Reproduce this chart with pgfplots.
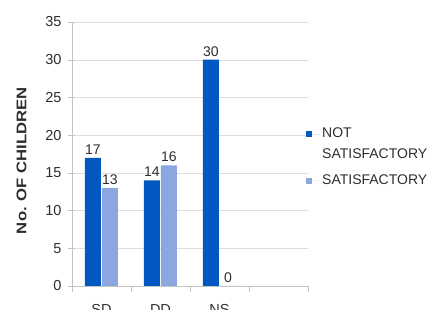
\documentclass[border=0pt]{standalone}
\usepackage{pgfplots}
\pgfplotsset{compat=1.18}
\usepackage{fontspec}
\setmainfont{Liberation Sans}
\definecolor{darkb}{RGB}{2,88,192}
\definecolor{lightb}{RGB}{140,166,224}
\definecolor{gridc}{RGB}{222,222,222}
\definecolor{axc}{RGB}{195,195,195}
\definecolor{txt}{RGB}{45,45,45}
\begin{document}
\begin{tikzpicture}
\clip (-72pt,-24pt) rectangle (362pt,286pt);
\begin{axis}[
  at={(0pt,0pt)}, anchor=south west,
  scale only axis, width=236pt, height=264pt,
  xmin=-0.5, xmax=3.5, ymin=0, ymax=35,
  ybar, bar width=16pt,
  axis x line*=bottom, axis y line*=left,
  axis line style={-,draw=axc},
  ytick={0,5,...,35},
  ymajorgrids, grid style={draw=gridc},
  xtick={0,1,2,3}, xticklabels={SD,DD,NS,{}},
  minor xtick={-0.5,0.5,1.5,2.5,3.5},
  tick align=outside,
  major x tick style={draw=none},
  minor x tick style={draw=axc},
  minor tick length=6pt,
  major tick length=7pt,
  y tick style={draw=axc, xshift=3.5pt},
  /pgf/number format/assume math mode=true,
  ticklabel style={font=\fontsize{14.5}{16}\selectfont, text=txt},
  xticklabel style={yshift=-8pt},
  ylabel={\scalebox{1.19}[1]{No. OF CHILDREN}},
  ylabel shift=12pt,
  ylabel style={at={(ticklabel cs:0.475)}, font=\fontsize{14}{16}\selectfont\bfseries, text=txt},
  nodes near coords,
  nodes near coords style={font=\fontsize{14}{16}\selectfont, text=txt},
  legend style={at={(1.0,0.608)}, anchor=north west, xshift=-2pt, draw=none, fill=none,
    font=\fontsize{14}{17}\selectfont, text=txt, inner sep=0pt,
    row sep=3.5pt, nodes={text height=10pt, text depth=3.5pt, inner sep=2pt}},
  legend cell align=left,
  legend image code/.code={\fill[#1] (0pt,-3pt) rectangle (6pt,3pt); \path (6pt,0pt) -- (14pt,0pt);},
]
\addplot[fill=darkb, draw=none, forget plot, bar shift=-8.5pt] coordinates {(0,17) (1,14) (2,30)};
\addplot[fill=lightb, draw=none, forget plot, bar shift=8.5pt] coordinates {(0,13) (1,16) (2,0)};
\addlegendimage{fill=darkb, draw=none}
\addlegendentry{NOT}
\addlegendimage{empty legend}
\addlegendentry[text depth=8pt]{SATISFACTORY}
\addlegendimage{fill=lightb, draw=none}
\addlegendentry{SATISFACTORY}
\end{axis}
\end{tikzpicture}
\end{document}
